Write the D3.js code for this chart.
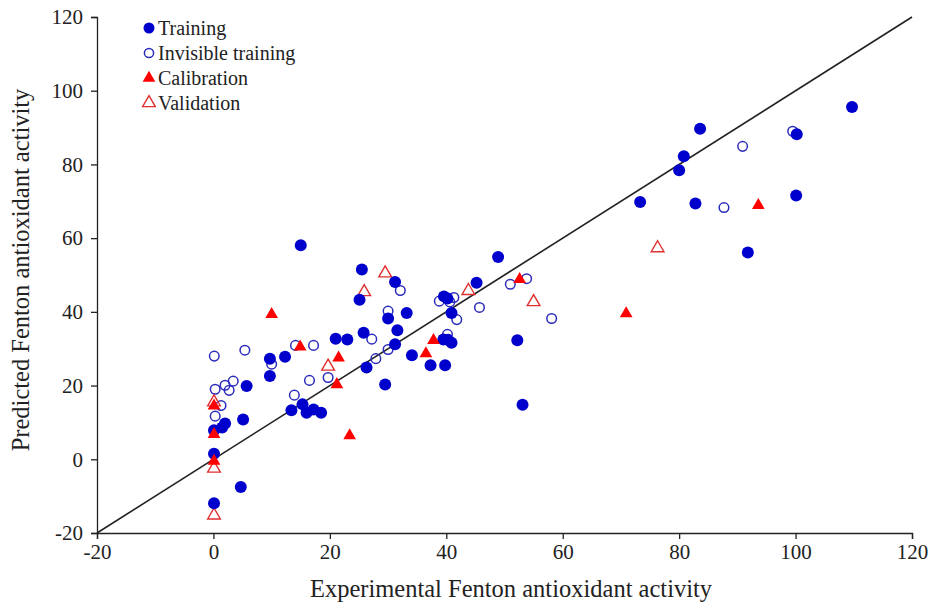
<!DOCTYPE html>
<html>
<head>
<meta charset="utf-8">
<script src="https://cdn.jsdelivr.net/npm/d3@7"></script>
<style>
  body { margin: 0; background: #fff; }
  svg text { font-family: "Times New Roman", "Liberation Serif", serif; fill: #222; }
</style>
</head>
<body>
<div id="chart"></div>
<script>
// [experimental, predicted] pairs
var training = [
  [0.1, 1.5], [0.1, -11.9], [4.7, -7.5], [2.0, 9.7], [1.5, 8.6], [5.1, 10.8], [5.7, 19.9], [0.1, 7.9],
  [15.0, 58.1], [9.7, 27.3], [12.3, 27.8], [9.7, 22.6], [21.0, 32.7],
  [13.4, 13.3], [15.3, 14.9], [16.0, 12.6], [17.2, 13.5], [18.5, 12.6],
  [25.5, 51.5], [31.2, 48.1], [25.1, 43.3], [30.0, 38.2], [33.2, 39.7], [31.6, 35.0], [25.8, 34.3],
  [23.0, 32.5], [31.2, 31.2], [26.3, 24.9], [34.1, 28.2], [37.3, 25.5], [39.8, 25.5], [29.5, 20.3],
  [39.6, 44.2], [40.2, 43.6], [40.9, 39.7], [39.5, 32.5], [40.3, 32.4], [40.9, 31.6], [45.2, 47.9],
  [48.9, 54.9], [52.2, 32.3], [53.1, 14.8],
  [83.6, 89.7], [100.2, 88.2], [109.7, 95.6], [80.8, 82.2], [80.0, 78.4], [73.3, 69.8], [82.8, 69.4],
  [100.1, 71.6], [91.8, 56.1]
];
var invisibleTraining = [
  [0.15, 28.0], [5.4, 29.6], [10.0, 25.8], [14.1, 30.9], [17.2, 30.9], [19.7, 22.2], [16.5, 21.4],
  [3.4, 21.2], [2.0, 20.1], [0.3, 19.0], [2.7, 18.7], [1.3, 14.6], [0.3, 11.7], [13.9, 17.4],
  [32.1, 45.8], [30.0, 40.2], [27.2, 32.6], [30.0, 29.8], [27.9, 27.3], [38.8, 42.9], [41.3, 43.9],
  [40.6, 42.7], [41.8, 37.9], [40.2, 33.9], [45.7, 41.2], [51.0, 47.5], [53.8, 49.0], [58.1, 38.2],
  [90.9, 84.9], [99.5, 89.0], [87.7, 68.3]
];
var calibration = [
  [10.0, 39.3], [14.9, 30.5], [21.5, 27.5], [21.2, 20.3], [0.1, 14.5], [0.1, 6.8], [0.1, -0.5],
  [37.8, 32.3], [36.5, 28.7], [52.6, 48.8], [93.6, 68.9], [70.9, 39.5], [23.4, 6.4]
];
var validation = [
  [19.7, 25.2], [29.5, 50.5], [25.9, 45.4], [43.8, 45.7], [55.0, 42.7], [76.3, 57.3],
  [0.1, 15.5], [0.1, -2.5], [0.1, -15.2]
];
var ticks = [-20, 0, 20, 40, 60, 80, 100, 120];
var legendLabels = ["Training", "Invisible training", "Calibration", "Validation"];

var width = 930,
    height = 602,
    margin = {top: 17, right: 18, bottom: 69, left: 97},
    blue = "#0000cc",
    red = "#ff0000";

var x = d3.scaleLinear().domain([-20, 120]).range([margin.left, width - margin.right]),
    y = d3.scaleLinear().domain([-20, 120]).range([height - margin.bottom, margin.top]);

var svg = d3.select("#chart").append("svg")
    .attr("width", width)
    .attr("height", height);

// axes (plain hyphen for negatives, like the original)
var fmt = function(d) { return String(d); };
var xAxis = svg.append("g")
    .attr("transform", "translate(0," + (height - margin.bottom) + ")")
    .call(d3.axisBottom(x).tickValues(ticks).tickSize(6).tickPadding(5).tickFormat(fmt));
var yAxis = svg.append("g")
    .attr("transform", "translate(" + margin.left + ",0)")
    .call(d3.axisLeft(y).tickValues(ticks).tickSize(6).tickPadding(8).tickFormat(fmt));

[xAxis, yAxis].forEach(function(a) {
  a.select(".domain").attr("stroke", "#222").attr("stroke-width", 1.3);
  a.selectAll(".tick line").attr("stroke", "#222").attr("stroke-width", 1.3);
  a.selectAll(".tick text").style("font-size", "21px").attr("fill", "#222");
});

// 1:1 line
svg.append("line")
    .attr("x1", x(-20)).attr("y1", y(-20))
    .attr("x2", x(120)).attr("y2", y(120))
    .attr("stroke", "#222")
    .attr("stroke-width", 1.6);

var tri = d3.symbol().type(d3.symbolTriangle).size(70);

function px(d) { return x(d[0]); }
function py(d) { return y(d[1]); }

svg.append("g").selectAll("circle").data(invisibleTraining).enter().append("circle")
    .attr("cx", px).attr("cy", py).attr("r", 4.8)
    .attr("fill", "none").attr("stroke", "#2b2bbb").attr("stroke-width", 1.5);

svg.append("g").selectAll("path").data(validation).enter().append("path")
    .attr("d", tri)
    .attr("transform", function(d) { return "translate(" + px(d) + "," + py(d) + ")"; })
    .attr("fill", "none").attr("stroke", "#e03030").attr("stroke-width", 1.4);

svg.append("g").selectAll("circle").data(training).enter().append("circle")
    .attr("cx", px).attr("cy", py).attr("r", 6)
    .attr("fill", blue);

svg.append("g").selectAll("path").data(calibration).enter().append("path")
    .attr("d", tri)
    .attr("transform", function(d) { return "translate(" + px(d) + "," + py(d) + ")"; })
    .attr("fill", red);

// legend
var legend = svg.append("g").selectAll("g").data(legendLabels).enter().append("g")
    .attr("transform", function(d, i) { return "translate(149," + (28 + i * 25) + ")"; });

legend.each(function(d, i) {
  var g = d3.select(this);
  if (i === 0) g.append("circle").attr("r", 5.5).attr("fill", blue);
  if (i === 1) g.append("circle").attr("r", 4.6).attr("fill", "none").attr("stroke", "#2b2bbb").attr("stroke-width", 1.5);
  if (i === 2) g.append("path").attr("d", tri).attr("fill", red);
  if (i === 3) g.append("path").attr("d", tri).attr("fill", "none").attr("stroke", "#e03030").attr("stroke-width", 1.4);
  g.append("text")
    .attr("x", 9)
    .attr("dy", "0.35em")
    .style("font-size", "20px")
    .text(d);
});

// axis titles
svg.append("text")
    .attr("x", 511)
    .attr("y", 597)
    .attr("text-anchor", "middle")
    .style("font-size", "24.5px")
    .text("Experimental Fenton antioxidant activity");

svg.append("text")
    .attr("transform", "translate(29,270) rotate(-90)")
    .attr("text-anchor", "middle")
    .style("font-size", "24.5px")
    .text("Predicted Fenton antioxidant activity");
</script>
</body>
</html>
